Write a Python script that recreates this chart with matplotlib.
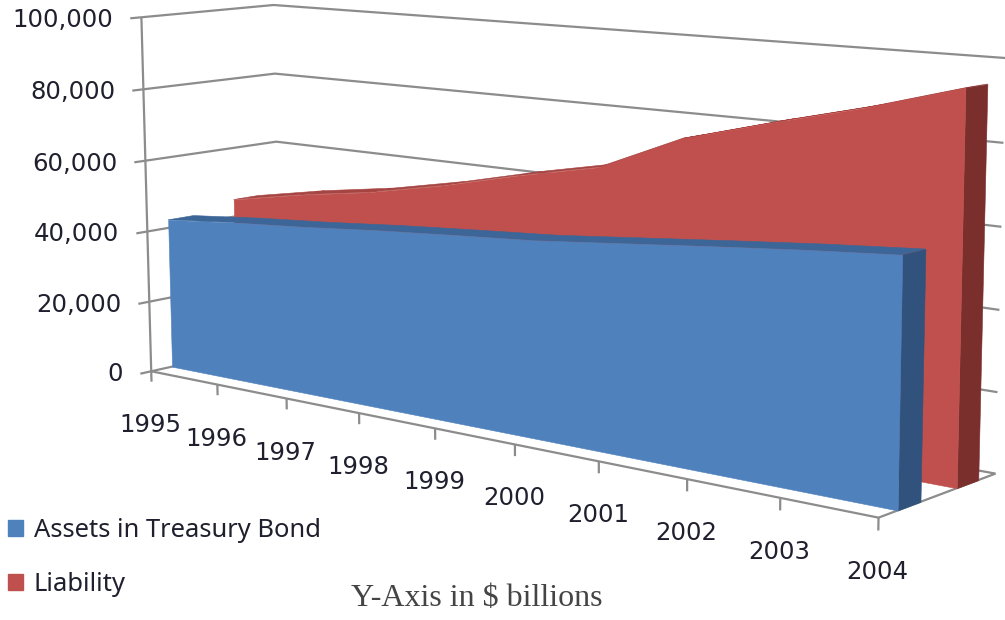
import matplotlib
matplotlib.use('Agg')
import matplotlib.pyplot as plt
from matplotlib.patches import Patch
from mpl_toolkits.mplot3d import proj3d
from mpl_toolkits.mplot3d.art3d import Poly3DCollection

W, H = 1005, 620

YEARS = [1995, 1996, 1997, 1998, 1999, 2000, 2001, 2002, 2003, 2004]
ASSETS = [42300, 44300, 45900, 47800, 49400, 50900, 53100, 55300, 57400, 59200]
LIABILITY = [45000, 49000, 52300, 56700, 61900, 66500, 76200, 82300, 88000, 94600]
Y_TICKS = [0, 20000, 40000, 60000, 80000, 100000]

GRID = '#8c8c8c'
BLUE, BLUE_TOP, BLUE_SIDE = '#4f81bd', '#3c6697', '#30527c'
RED, RED_TOP, RED_SIDE = '#c0504d', '#a54441', '#7a2f2d'

# camera was fitted against the corners of the walls
fig = plt.figure(figsize=(W / 100, H / 100), dpi=100)
ax = fig.add_axes([20.6 / W, -127.03 / H, 1008.14 / W, 1008.14 / H],
                  projection='3d', proj_type='persp', focal_length=0.5036)
ax.view_init(9.462, -49.844, 0.230)
ax.set_box_aspect((2.4333, 0.5091, 1), zoom=1)
ax.set_xlim(YEARS[0], YEARS[-1])
ax.set_ylim(0, 1)
ax.set_zlim(0, 100000)
ax.set_axis_off()
ax.computed_zorder = False
ax.patch.set_alpha(0)


def line(xs, ys, zs):
    ax.plot(xs, ys, zs, color=GRID, lw=1.6, zorder=1, solid_capstyle='butt')


def area(values, y0, y1, front, top, side, z):
    """Объёмная область: верх, боковая грань, передняя грань."""
    strips = [[(YEARS[i], y0, values[i]), (YEARS[i + 1], y0, values[i + 1]),
               (YEARS[i + 1], y1, values[i + 1]), (YEARS[i], y1, values[i])]
              for i in range(len(YEARS) - 1)]
    end = [[(YEARS[-1], y0, 0), (YEARS[-1], y1, 0),
            (YEARS[-1], y1, values[-1]), (YEARS[-1], y0, values[-1])]]
    face = [[(YEARS[0], y0, 0)] + [(x, y0, v) for x, v in zip(YEARS, values)]
            + [(YEARS[-1], y0, 0)]]
    for verts, color, k in ((strips, top, 0), (end, side, 1), (face, front, 2)):
        ax.add_collection3d(Poly3DCollection(verts, facecolors=color, edgecolors=color,
                                             linewidths=0.4, zorder=z + k))


# walls and floor
for v in Y_TICKS:
    line([YEARS[0], YEARS[0], YEARS[-1]], [-0.08, 1, 1], [v, v, v])
line([YEARS[0], YEARS[0]], [0, 0], [-3000, 100000])
line([YEARS[0], YEARS[-1], YEARS[-1]], [0, 0, 1], [0, 0, 0])
for yr in YEARS[1:]:
    line([yr, yr], [0, 0], [-3000, 0])

area(LIABILITY, 0.655, 0.845, RED, RED_TOP, RED_SIDE, 2)
area(ASSETS, 0.155, 0.345, BLUE, BLUE_TOP, BLUE_SIDE, 5)

ax.set_xlim(YEARS[0], YEARS[-1])
ax.set_ylim(0, 1)
ax.set_zlim(0, 100000)
M = ax.get_proj()


def label(text, x, y, z, dx, dy, ha):
    px, py, _ = proj3d.proj_transform(x, y, z, M)
    ax.annotate(text, (px, py), xytext=(dx * 0.72, dy * 0.72), textcoords='offset points',
                ha=ha, va='center', fontsize=17.6, color='#1f1f2e', zorder=10,
                annotation_clip=False)


for v in Y_TICKS:
    label(f'{v:,}', YEARS[0], 0, v, -28, -3, 'right')
for yr in YEARS:
    label(str(yr), yr, 0, 0, -1, -54, 'center')

fig.legend(handles=[Patch(color=BLUE, label='Assets in Treasury Bond'),
                    Patch(color=RED, label='Liability')],
           loc='lower left', bbox_to_anchor=(0, 15 / H), frameon=False,
           prop={'family': 'Noto Sans', 'size': 18.4}, handlelength=0.6, handleheight=0.6,
           handletextpad=0.42, labelspacing=1.15, borderaxespad=0, borderpad=0.3,
           labelcolor='#1f1f2e')

fig.text(477 / W, 1 - 599 / H, 'Y-Axis in $ billions', family='Liberation Serif',
         fontsize=23, color='#444444', ha='center', va='center')

fig.savefig('out.png', dpi=100, facecolor='white')
